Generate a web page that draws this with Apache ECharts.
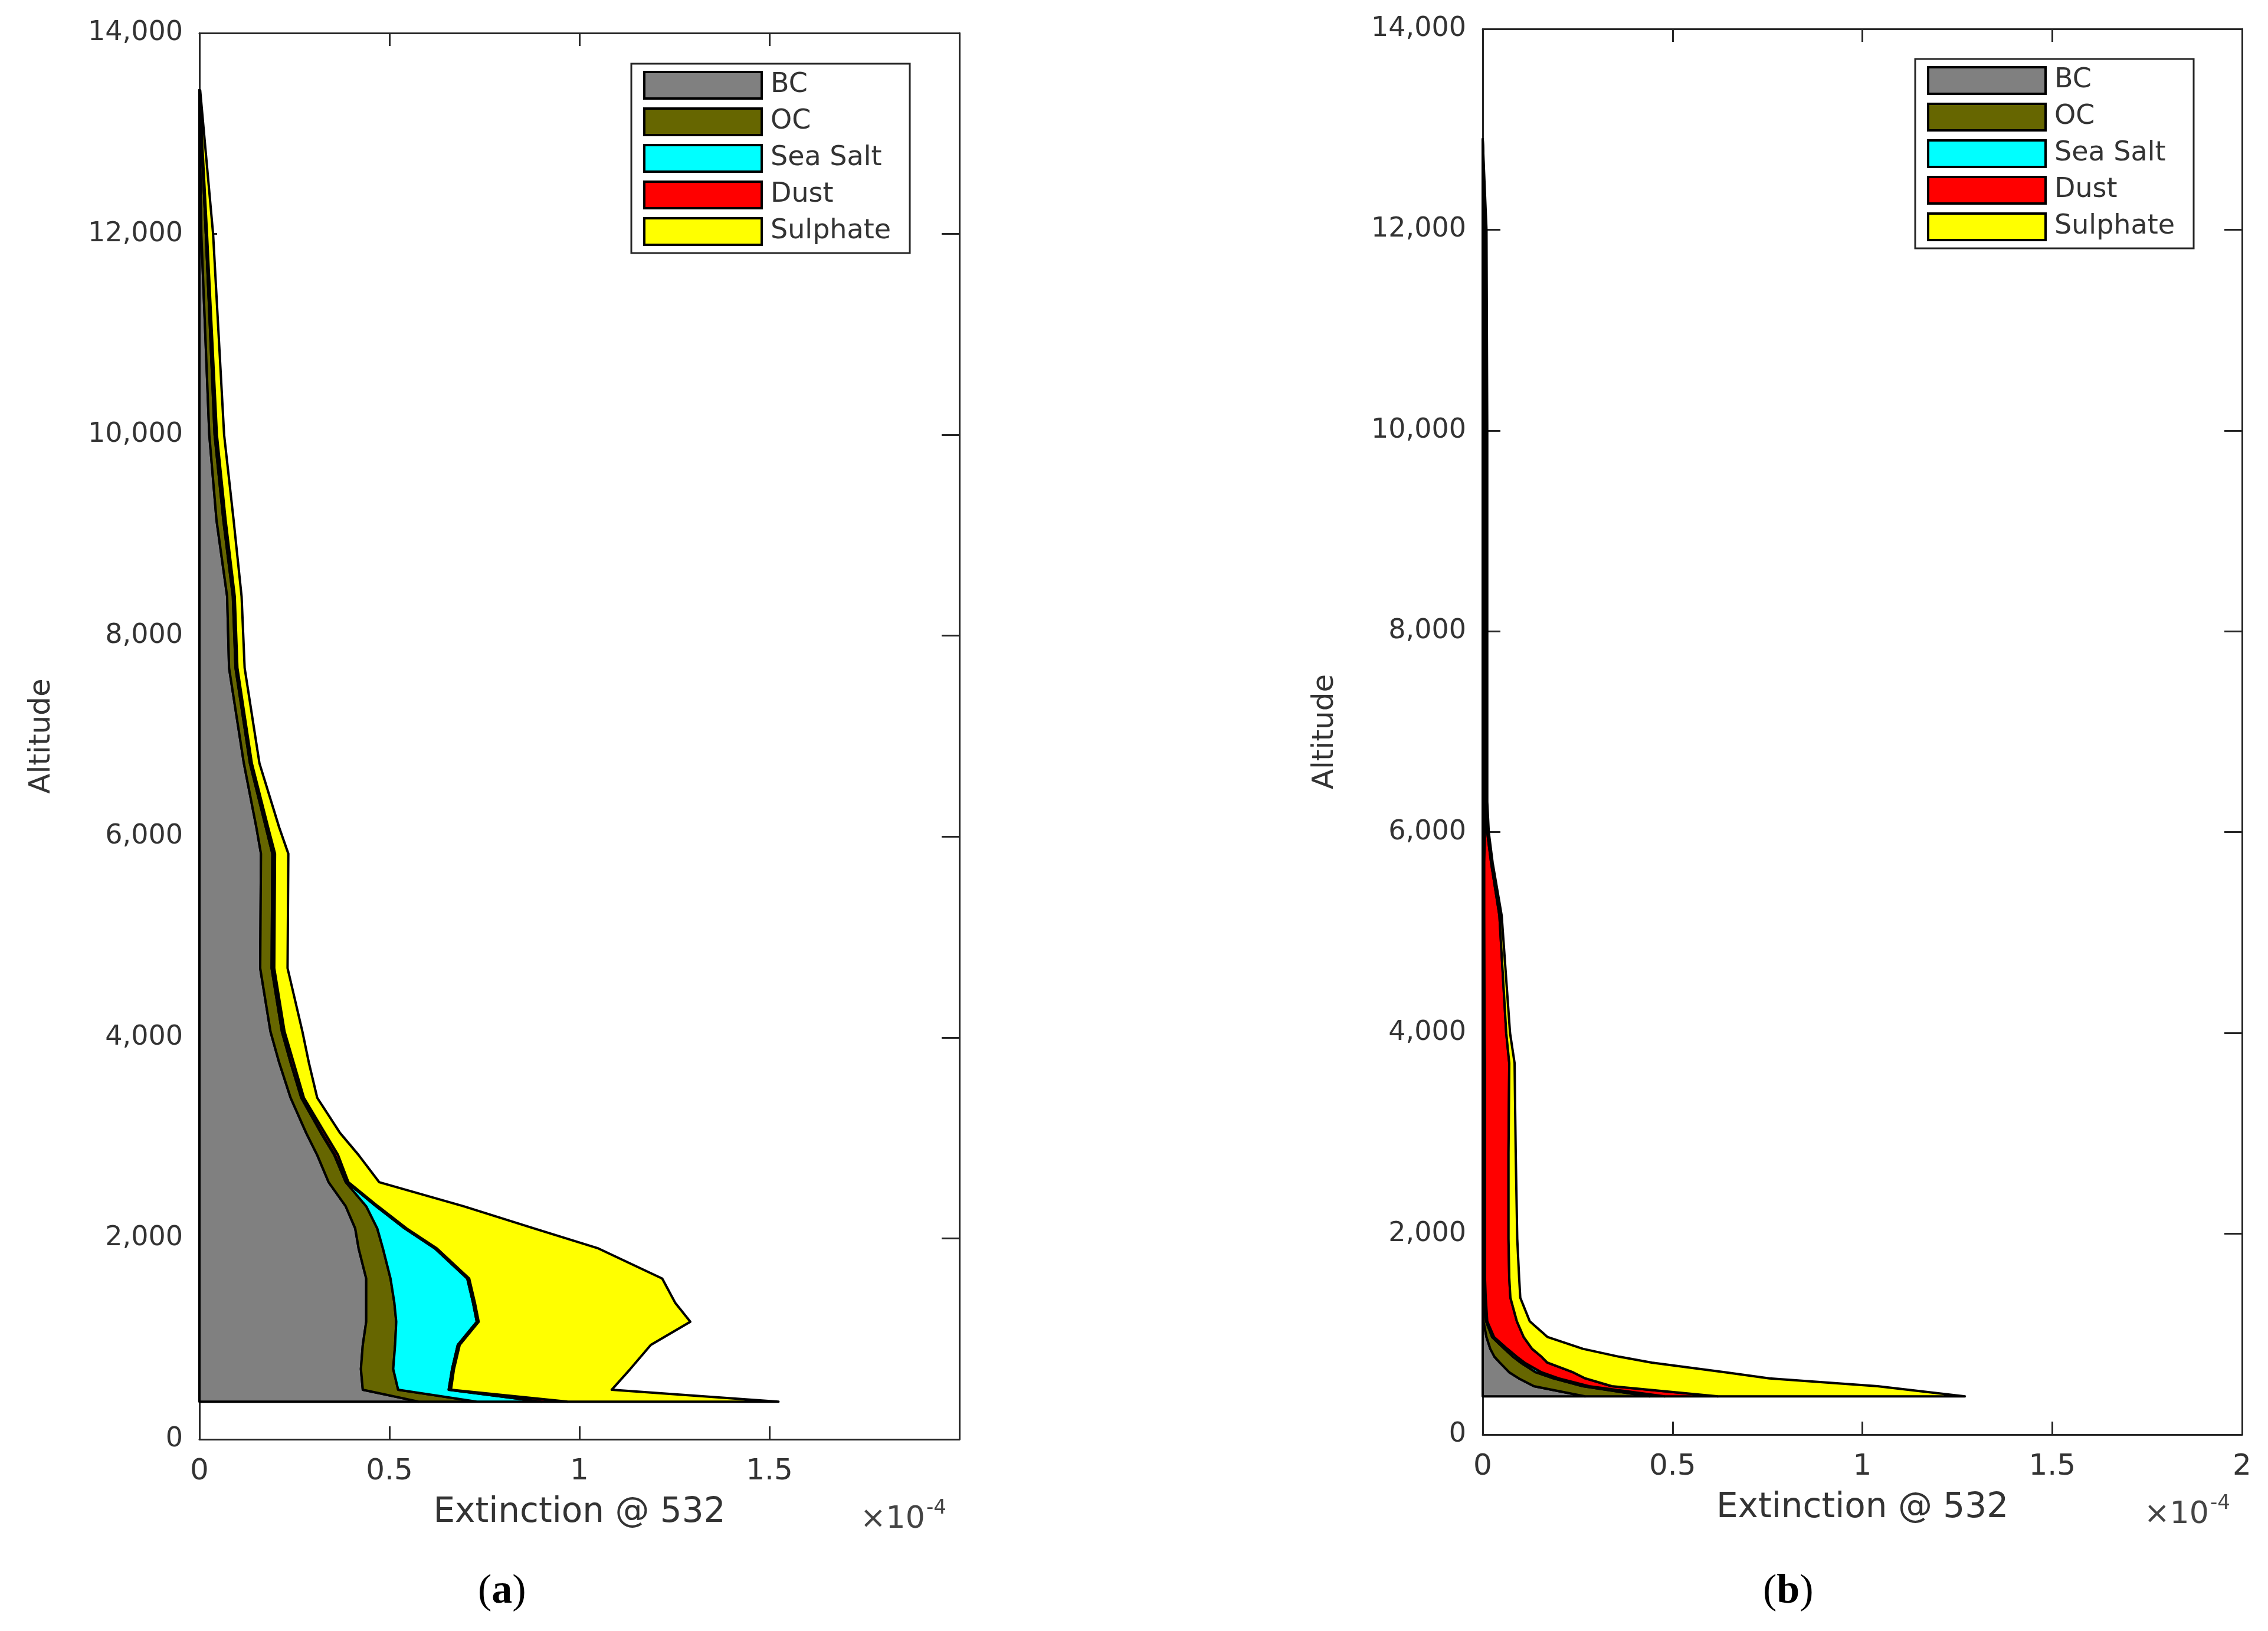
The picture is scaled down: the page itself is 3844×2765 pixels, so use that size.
<!DOCTYPE html>
<html>
    <head>
        <meta charset="utf-8">
        <title>Extinction profiles</title>
        <script src="https://cdn.jsdelivr.net/npm/echarts@6.0.0/dist/echarts.min.js"></script>
        <style>
            html, body { margin: 0; padding: 0; background: #fff; }
            #chart { width: 3844px; height: 2765px; }
        </style>
    </head>
    <body>
        <div id="chart"></div>
        <script type="text/javascript">
            // 图例名称和颜色
            var names = ['BC', 'OC', 'Sea Salt', 'Dust', 'Sulphate'];
            var colors = ['#808080', '#666600', '#00ffff', '#ff0000', '#ffff00'];

            // (a) 高度 (m) 和各成分消光 (x1e-4)
            var altA = [375, 493, 700, 940, 1170, 1360, 1600, 1900, 2100, 2320, 2560, 2830, 3050, 3400, 3750, 4060, 4690, 5830, 6090, 6730, 7680, 8390, 9150, 10000, 12000, 13430];
            var bcA = [0.577, 0.43, 0.425, 0.43, 0.439, 0.439, 0.439, 0.419, 0.41, 0.385, 0.34, 0.31, 0.281, 0.24, 0.21, 0.187, 0.16, 0.162, 0.15, 0.117, 0.078, 0.073, 0.045, 0.026, 0.005, 0];
            var ocA = [0.153, 0.093, 0.085, 0.085, 0.079, 0.074, 0.064, 0.064, 0.058, 0.054, 0.045, 0.045, 0.039, 0.028, 0.03, 0.03, 0.03, 0.03, 0.025, 0.016, 0.017, 0.015, 0.018, 0.014, 0.012, 0];
            var ssA = [0.17, 0.133, 0.155, 0.165, 0.212, 0.207, 0.202, 0.137, 0.072, 0.026, 0.003, 0.002, 0.002, 0.001, 0.001, 0.001, 0.001, 0.001, 0.001, 0.001, 0.001, 0.001, 0.001, 0.001, 0, 0];
            var dustA = [0.07, 0.006, 0.005, 0.005, 0.005, 0.005, 0.005, 0.005, 0.005, 0.005, 0.004, 0.008, 0.008, 0.006, 0.007, 0.006, 0.006, 0.006, 0.005, 0.004, 0.004, 0.004, 0.005, 0.005, 0.003, 0];
            var sulA = [0.554, 0.423, 0.464, 0.503, 0.557, 0.527, 0.508, 0.425, 0.335, 0.225, 0.081, 0.054, 0.04, 0.035, 0.04, 0.047, 0.035, 0.035, 0.029, 0.02, 0.019, 0.018, 0.021, 0.019, 0.016, 0.002];

            // (b)
            var altB = [380, 482, 560, 620, 717, 775, 854, 971, 1128, 1363, 1560, 1950, 2800, 3700, 4000, 5170, 5700, 6000, 6300, 8000, 10000, 12000, 12900];
            var bcB = [0.27, 0.135, 0.095, 0.07, 0.045, 0.031, 0.02, 0.01, 0.002, 0.002, 0.002, 0.002, 0.002, 0.002, 0.002, 0.002, 0.002, 0.002, 0.002, 0.002, 0.002, 0.002, 0];
            var ocB = [0.17, 0.129, 0.091, 0.07, 0.055, 0.049, 0.037, 0.015, 0.007, 0.004, 0.003, 0.003, 0.003, 0.003, 0.003, 0.002, 0.002, 0.004, 0.004, 0.004, 0.004, 0.003, 0];
            var ssB = [0.04, 0.016, 0.014, 0.015, 0.01, 0.01, 0.008, 0.005, 0.003, 0.002, 0.001, 0.001, 0.001, 0.001, 0, 0, 0, 0, 0, 0, 0, 0, 0];
            var dustB = [0.14, 0.06, 0.07, 0.083, 0.06, 0.065, 0.065, 0.078, 0.078, 0.065, 0.064, 0.062, 0.062, 0.064, 0.057, 0.04, 0.018, 0.006, 0.002, 0.002, 0.002, 0.002, 0];
            var sulB = [0.65, 0.7, 0.485, 0.402, 0.275, 0.205, 0.134, 0.063, 0.034, 0.026, 0.026, 0.023, 0.019, 0.014, 0.01, 0.006, 0.004, 0.004, 0.004, 0.004, 0.004, 0.003, 0];

            var xTicks = [0, 0.5, 1, 1.5, 2];
            var yTicks = [0, 2000, 4000, 6000, 8000, 10000, 12000, 14000];

            var textColor = '#333333';
            var lineColor = '#262626';
            var font = 'DejaVu Sans';

            // 累加得到每层的上下边界
            function cumulate(parts) {
                var out = [], run = parts[0].map(function () { return 0; });
                out.push(run.slice());
                parts.forEach(function (p) {
                    run = run.map(function (v, i) { return v + p[i]; });
                    out.push(run.slice());
                });
                return out;
            }

            function bandSeries(alt, parts, axisIdx) {
                var cum = cumulate(parts);
                return names.map(function (name, k) {
                    var lower = cum[k], upper = cum[k + 1];
                    return {
                        name: name,
                        type: 'custom',
                        xAxisIndex: axisIdx,
                        yAxisIndex: axisIdx,
                        silent: true,
                        itemStyle: { color: colors[k], borderColor: '#000', borderWidth: 4 },
                        data: [[0, alt[0]]],
                        renderItem: function (params, api) {
                            var pts = [];
                            for (var i = 0; i < alt.length; i++) pts.push(api.coord([upper[i], alt[i]]));
                            for (var j = alt.length - 1; j >= 0; j--) pts.push(api.coord([lower[j], alt[j]]));
                            return {
                                type: 'polygon',
                                shape: { points: pts },
                                style: { fill: colors[k], stroke: '#000', lineWidth: 4, lineJoin: 'round' }
                            };
                        }
                    };
                });
            }

            function xAxisPair(gridIndex, showMax) {
                var line = { show: true, onZero: false, lineStyle: { color: lineColor, width: 3 } };
                var tick = { show: true, inside: true, length: 22, lineStyle: { color: lineColor, width: 3 } };
                return [{
                    type: 'value', gridIndex: gridIndex, position: 'bottom',
                    min: xTicks[0], max: xTicks[xTicks.length - 1], interval: 0.5,
                    axisLine: line, axisTick: tick, splitLine: { show: false },
                    axisLabel: { color: textColor, fontSize: 50, fontFamily: font, margin: 30, showMaxLabel: showMax },
                    name: 'Extinction @ 532', nameLocation: 'middle', nameGap: 96,
                    nameTextStyle: { color: textColor, fontSize: 58, fontFamily: font }
                }, {
                    type: 'value', gridIndex: gridIndex, position: 'top',
                    min: xTicks[0], max: xTicks[xTicks.length - 1], interval: 0.5,
                    axisLine: line, axisTick: tick, splitLine: { show: false },
                    axisLabel: { show: false }
                }];
            }

            function yAxisPair(gridIndex) {
                var line = { show: true, onZero: false, lineStyle: { color: lineColor, width: 3 } };
                var tick = { show: true, inside: true, length: 30, lineStyle: { color: lineColor, width: 3 } };
                return [{
                    type: 'value', gridIndex: gridIndex, position: 'left',
                    min: yTicks[0], max: yTicks[yTicks.length - 1], interval: 2000,
                    axisLine: line, axisTick: tick, splitLine: { show: false },
                    axisLabel: {
                        color: textColor, fontSize: 46, fontFamily: font, margin: 28,
                        formatter: function (v) { return v.toLocaleString('en-US'); }
                    },
                    name: 'Altitude', nameLocation: 'middle', nameRotate: 90, nameGap: 242,
                    nameTextStyle: { color: textColor, fontSize: 50, fontFamily: font }
                }, {
                    type: 'value', gridIndex: gridIndex, position: 'right',
                    min: yTicks[0], max: yTicks[yTicks.length - 1], interval: 2000,
                    axisLine: line, axisTick: tick, splitLine: { show: false },
                    axisLabel: { show: false }
                }];
            }

            function legendBox(left, top) {
                return {
                    left: left, top: top, orient: 'vertical',
                    selectedMode: false,
                    icon: 'rect', itemWidth: 199, itemHeight: 45, itemGap: 13,
                    padding: [12, 32, 12, 20],
                    borderColor: lineColor, borderWidth: 3,
                    backgroundColor: '#fff',
                    itemStyle: { borderColor: '#000', borderWidth: 4 },
                    textStyle: { color: textColor, fontSize: 46, fontFamily: font, padding: [0, 0, 0, 10] },
                    data: names.map(function (n, i) { return { name: n, itemStyle: { color: colors[i] } }; })
                };
            }

            function expLabel(x, y) {
                return {
                    type: 'group', left: x, top: y,
                    children: [
                        { type: 'text', x: 0, y: 10, style: { text: '\u00d710', fill: '#444', fontSize: 52, fontFamily: font } },
                        { type: 'text', x: 112, y: 0, style: { text: '-4', fill: '#444', fontSize: 34, fontFamily: font } }
                    ]
                };
            }

            function panelLabel(x, y, letter) {
                return {
                    type: 'text', left: x, top: y,
                    style: {
                        text: '{p|(}{b|' + letter + '}{p|)}',
                        rich: {
                            p: { fontSize: 70, fontFamily: 'Liberation Serif', fill: '#000' },
                            b: { fontSize: 70, fontFamily: 'Liberation Serif', fontWeight: 'bold', fill: '#000' }
                        }
                    }
                };
            }

            var myChart = echarts.init(document.getElementById('chart'));

            myChart.setOption({
                backgroundColor: '#fff',
                animation: false,
                grid: [
                    { left: 338, top: 56, width: 1288, height: 2384 },
                    { left: 2513, top: 49, width: 1287, height: 2383 }
                ],
                xAxis: xAxisPair(0, false).concat(xAxisPair(1, true)),
                yAxis: yAxisPair(0).concat(yAxisPair(1)),
                legend: [legendBox(1070, 108), legendBox(3246, 100)],
                series: bandSeries(altA, [bcA, ocA, ssA, dustA, sulA], 0)
                    .concat(bandSeries(altB, [bcB, ocB, ssB, dustB, sulB], 2)),
                graphic: [
                    expLabel(1458, 2540),
                    expLabel(3634, 2532),
                    panelLabel(810, 2664, 'a'),
                    panelLabel(2988, 2664, 'b')
                ]
            });
        </script>
    </body>
</html>
